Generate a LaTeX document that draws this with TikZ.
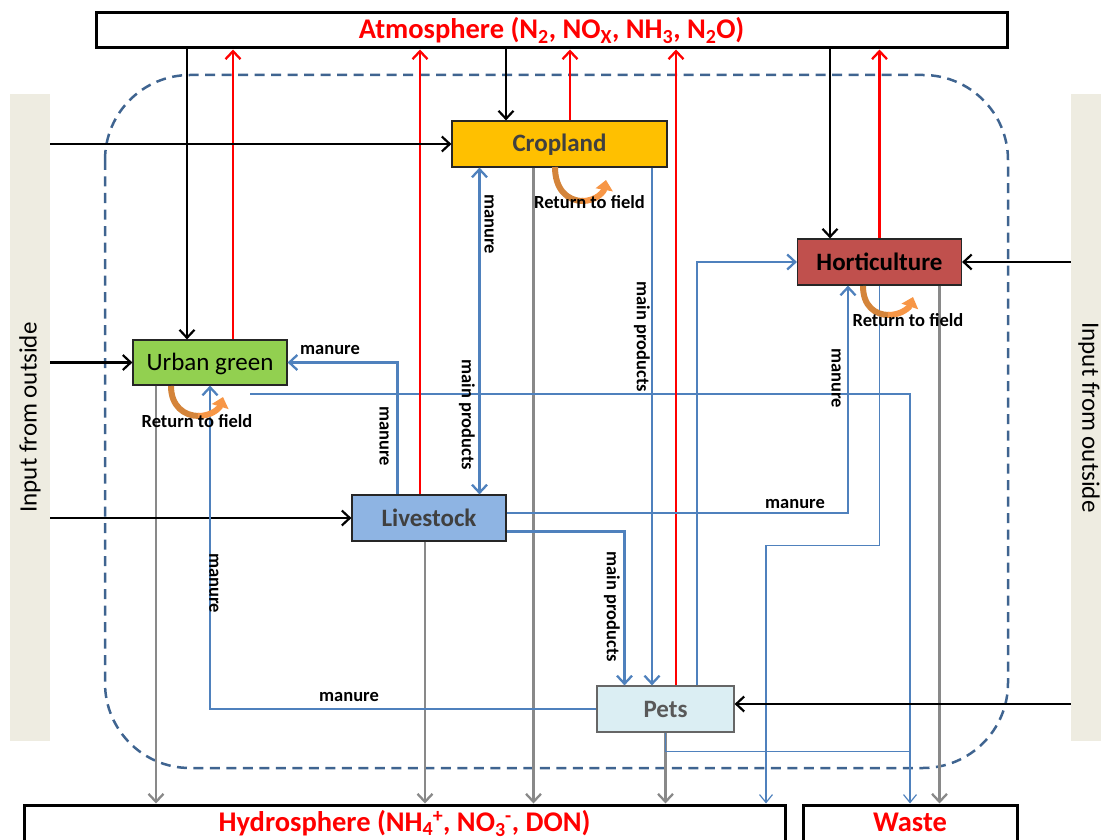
\documentclass[tikz,border=0pt]{standalone}
\usepackage{fontspec}
\setmainfont{Carlito}
\usetikzlibrary{arrows.meta}
\definecolor{lineblue}{HTML}{4F81BD}
\definecolor{linegray}{HTML}{898989}
\definecolor{dashblue}{HTML}{3F6490}
\definecolor{beige}{HTML}{EEECE1}
\definecolor{cropfill}{HTML}{FFC000}
\definecolor{hortfill}{HTML}{C0504D}
\definecolor{urbfill}{HTML}{92D050}
\definecolor{livefill}{HTML}{8EB4E3}
\definecolor{petfill}{HTML}{DBEEF3}
\definecolor{darktext}{HTML}{404040}
\definecolor{orangeA}{HTML}{D4843A}
\definecolor{orangeB}{HTML}{F79646}
\begin{document}
\begin{tikzpicture}[x=1pt,y=-1pt,
  >={Straight Barb[length=8pt,width=15pt]},
  box/.style={draw=black!85, line width=1.2pt, rectangle, inner sep=0pt,
    text height=16pt, text depth=0pt, font=\fontsize{25}{30}\selectfont},
  sphere/.style={draw=black, line width=3pt, rectangle, inner sep=0pt, text=red,
    text height=18pt, text depth=5pt, font=\fontsize{28.5}{32}\selectfont\bfseries},
  inbox/.style={fill=beige, draw=none, inner sep=0pt, font=\fontsize{25}{30}\selectfont},
  lbl/.style={inner sep=0pt, font=\fontsize{18.5}{20}\selectfont\bfseries},
  vlbl/.style={lbl, rotate=-90},
  blk/.style={draw=black, line width=2.2pt},
  rd/.style={draw=red, line width=2.3pt},
  blu/.style={draw=lineblue, line width=2.3pt},
  thb/.style={draw=lineblue, line width=1.2pt, >={Straight Barb[length=8pt,width=13pt]}},
  gry/.style={draw=linegray, line width=2.3pt},
  rtf/.style={line width=6pt},
]
\useasboundingbox (0,0) rectangle (1101,840);
\clip (0,0) rectangle (1101,840);

% outside input bands
\node[inbox, minimum width=40pt, minimum height=647pt] (inL) at (30,417.5) {\rotatebox{90}{Input from outside}};
\node[inbox, minimum width=36pt, minimum height=647pt] (inR) at (1089,417.5) {\rotatebox{-90}{Input from outside}};

% system boundary
\draw[dashblue, line width=2.5pt, dash pattern=on 10pt off 6.5pt, rounded corners=85pt] (105,75) rectangle (1008,768);

% boxes
\node[sphere, text depth=1pt, minimum width=911pt, minimum height=35pt] (atm) at (551.5,30.5) {Atmosphere (N\textsubscript{2}, NO\textsubscript{X}, NH\textsubscript{3}, N\textsubscript{2}O)};
\node[sphere, minimum width=761pt, minimum height=40pt] (hyd) at (404.5,825) {Hydrosphere (NH\textsubscript{4}\kern-0.5pt\textsuperscript{+}, NO\textsubscript{3}\kern-0.5pt\textsuperscript{-}, DON)};
\node[sphere, minimum width=214pt, minimum height=40pt] (waste) at (910,825) {Waste};

\node[box, fill=cropfill, text=darktext, font=\fontsize{25}{30}\selectfont\bfseries, minimum width=215pt, minimum height=46pt] (crop) at (559.5,144) {Cropland};
\node[box, fill=hortfill, text=black, font=\fontsize{25}{30}\selectfont\bfseries, minimum width=164pt, minimum height=46pt] (hort) at (879.5,262) {Horticulture};
\node[box, fill=urbfill, text=black, minimum width=154pt, minimum height=45pt] (urb) at (210,362.5) {Urban green};
\node[box, fill=livefill, text=darktext, font=\fontsize{25}{30}\selectfont\bfseries, minimum width=154pt, minimum height=46pt] (live) at (429,518) {Livestock};
\node[box, draw=black!60, fill=petfill, text=black!65, font=\fontsize{25}{30}\selectfont\bfseries, minimum width=137pt, minimum height=46pt] (pets) at (665.5,709) {Pets};

% gray flows to hydrosphere / waste
\draw[gry,->] ([xshift=-54pt]urb.south) -- ([xshift=-54pt]urb.south |- hyd.north);
\draw[gry,->] ([xshift=-4pt]live.south) -- ([xshift=-4pt]live.south |- hyd.north);
\draw[gry,->] ([xshift=-26pt]crop.south) -- ([xshift=-26pt]crop.south |- hyd.north);
\draw[gry,->] (pets.south) -- (pets.south |- hyd.north);
\draw[gry,->] ([xshift=60pt]hort.south) -- ([xshift=60pt]hort.south |- waste.north);

% thin blue flows
\coordinate (ugfree) at (250,394);
\draw[thb,->] (ugfree) -| (waste.north);
\draw[thb] (pets.south) -- ([yshift=-19pt]pets.south) -- ([yshift=-19pt]pets.south -| waste.north);
\draw[thb,->] (hort.south) -- ([yshift=-260pt]hort.south) -| ([xshift=361.5pt]hyd.north);

% black flows from atmosphere
\draw[blk,->] ([xshift=-23pt]urb.north |- atm.south) -- ([xshift=-23pt]urb.north);
\draw[blk,->] ([xshift=-53.5pt]crop.north |- atm.south) -- ([xshift=-53.5pt]crop.north);
\draw[blk,->] ([xshift=-49.5pt]hort.north |- atm.south) -- ([xshift=-49.5pt]hort.north);

% red flows to atmosphere
\draw[rd,->] ([xshift=23pt]urb.north) -- ([xshift=23pt]urb.north |- atm.south);
\draw[rd,->] ([xshift=-9pt]live.north) -- ([xshift=-9pt]live.north |- atm.south);
\draw[rd,->] ([xshift=10.5pt]crop.north) -- ([xshift=10.5pt]crop.north |- atm.south);
\draw[rd,->] ([xshift=10.5pt]pets.north) -- ([xshift=10.5pt]pets.north |- atm.south);
\draw[rd,->] (hort.north) -- (hort.north |- atm.south);

% inputs from outside
\draw[blk,->] (inL.east |- crop.west) -- (crop.west);
\draw[blk,->] (inL.east |- urb.west) -- (urb.west);
\draw[blk,->] (inL.east |- live.west) -- (live.west);
\draw[blk,->] (inR.west |- hort.east) -- (hort.east);
\draw[blk,->] ([yshift=5pt]inR.west |- pets.east) -- ([yshift=5pt]pets.east);

% blue flows
\draw[blu,<->] ([xshift=-80pt]crop.south) -- ([xshift=-80pt]crop.south |- live.north);
\draw[blu,->] ([xshift=92.5pt]crop.south) -- ([xshift=92.5pt]crop.south |- pets.north);
\draw[blu,->] ([xshift=-31.5pt]live.north) |- (urb.east);
\draw[blu,->] ([yshift=5pt]live.east) -| ([xshift=-31.5pt]hort.south);
\draw[blu,->] ([yshift=-13.5pt]live.east) -| ([xshift=-41pt]pets.north);
\draw[blu,->] (pets.west) -| (urb.south);
\draw[blu,->] ([xshift=31.5pt]pets.north) |- (hort.west);

% return to field loops
\draw[rtf, orangeA] (555,167) .. controls (555,189) and (567,201) .. (583,201);
\draw[rtf, orangeB, -{Triangle[length=10pt,width=17pt]}] (582,201) .. controls (597,201) and (604,191) .. (606,180);
\draw[rtf, orangeA] (863,286) .. controls (863,306) and (875,315) .. (889,315);
\draw[rtf, orangeB, -{Triangle[length=10pt,width=17pt]}] (888,315) .. controls (903,315) and (910,306) .. (913,297);
\draw[rtf, orangeA] (171,386) .. controls (171,406) and (184,416) .. (199,416);
\draw[rtf, orangeB, -{Triangle[length=10pt,width=17pt]}] (198,416) .. controls (213,416) and (220,407) .. (223,397);

% labels
\node[lbl] (rtfc) at (589.5,202) {Return to field};
\node[lbl] (rtfh) at (908,320) {Return to field};
\node[lbl] (rtfu) at (197,421) {Return to field};

\node[vlbl] (l1) at (489,224) {manure};
\node[vlbl] (l2) at (467,415) {main products};
\node[vlbl] (l3) at (642,337) {main products};
\node[lbl] (l4) at (330,350) {manure};
\node[vlbl] (l5) at (384,436) {manure};
\node[lbl] (l6) at (795,504) {manure};
\node[vlbl] (l7) at (836,378) {manure};
\node[vlbl] (l8) at (612,607) {main products};
\node[vlbl] (l9) at (214,583) {manure};
\node[lbl] (l10) at (349,697) {manure};
\end{tikzpicture}
\end{document}
